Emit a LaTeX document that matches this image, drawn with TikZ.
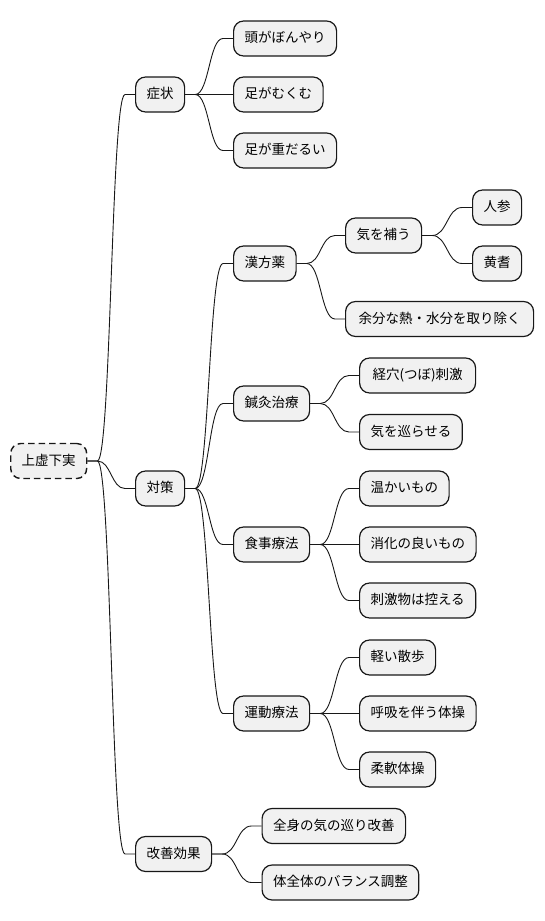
\documentclass[tikz,border=0pt]{standalone}
\usepackage{fontspec}
\setmainfont{Noto Sans CJK JP}
\usetikzlibrary{calc}
\definecolor{nodefill}{HTML}{F1F1F1}
\definecolor{nodeline}{HTML}{181818}
\tikzset{
  mmnode/.style={draw=nodeline, fill=nodefill, line width=1.2pt, rounded corners=10pt,
    minimum height=35pt, inner xsep=11pt, inner ysep=0pt, anchor=west,
    text height=10.8pt, text depth=2.7pt, font=\fontsize{13.5}{16}\selectfont},
  mmroot/.style={mmnode, dash pattern=on 6.5pt off 4pt, line width=1.4pt},
  link/.style={draw=nodeline, line width=0.9pt}
}
\newcommand\mmlink[2]{\draw[link] let \p1=(#1.east), \p2=(#2.west) in
  (#1.east) -- ({\x1+10pt},\y1) .. controls ({(\x1+\x2)/2},\y1) and ({(\x1+\x2)/2},\y2) .. ({\x2-10pt},\y2) -- (#2.west);}
\begin{document}
\begin{tikzpicture}[x=1pt,y=-1pt]
\useasboundingbox (0,0) rectangle (544,921);
\node[mmroot] (root) at (10,461) {上虚下実};
\node[mmnode] (s) at (135,94.5) {症状};
\node[mmnode] (s1) at (233,38.5) {頭がぼんやり};
\node[mmnode] (s2) at (233,94.5) {足がむくむ};
\node[mmnode] (s3) at (233,150.5) {足が重だるい};
\node[mmnode] (t) at (135,488.5) {対策};
\node[mmnode] (k) at (233,263.5) {漢方薬};
\node[mmnode] (k1) at (345,235.5) {気を補う};
\node[mmnode] (k11) at (472,207.5) {人参};
\node[mmnode] (k12) at (472,263.5) {黄耆};
\node[mmnode, minimum width=188pt] (k2) at (345,319) {余分な熱・水分を取り除く};
\node[mmnode] (h) at (233,403.5) {鍼灸治療};
\node[mmnode, minimum width=116pt] (h1) at (359,375.5) {経穴(つぼ)刺激};
\node[mmnode] (h2) at (359,432) {気を巡らせる};
\node[mmnode] (f) at (233,544.5) {食事療法};
\node[mmnode] (f1) at (359,488.5) {温かいもの};
\node[mmnode] (f2) at (359,544.5) {消化の良いもの};
\node[mmnode] (f3) at (359,600.5) {刺激物は控える};
\node[mmnode] (u) at (233,713.5) {運動療法};
\node[mmnode] (u1) at (359,657.5) {軽い散歩};
\node[mmnode] (u2) at (359,713.5) {呼吸を伴う体操};
\node[mmnode] (u3) at (359,769.5) {柔軟体操};
\node[mmnode] (e) at (135,854) {改善効果};
\node[mmnode] (e1) at (261.5,826) {全身の気の巡り改善};
\node[mmnode] (e2) at (261.5,882.5) {体全体のバランス調整};
\mmlink{root}{s}
\mmlink{root}{t}
\mmlink{root}{e}
\mmlink{s}{s1}
\mmlink{s}{s2}
\mmlink{s}{s3}
\mmlink{t}{k}
\mmlink{t}{h}
\mmlink{t}{f}
\mmlink{t}{u}
\mmlink{k}{k1}
\mmlink{k}{k2}
\mmlink{k1}{k11}
\mmlink{k1}{k12}
\mmlink{h}{h1}
\mmlink{h}{h2}
\mmlink{f}{f1}
\mmlink{f}{f2}
\mmlink{f}{f3}
\mmlink{u}{u1}
\mmlink{u}{u2}
\mmlink{u}{u3}
\mmlink{e}{e1}
\mmlink{e}{e2}
\end{tikzpicture}
\end{document}
